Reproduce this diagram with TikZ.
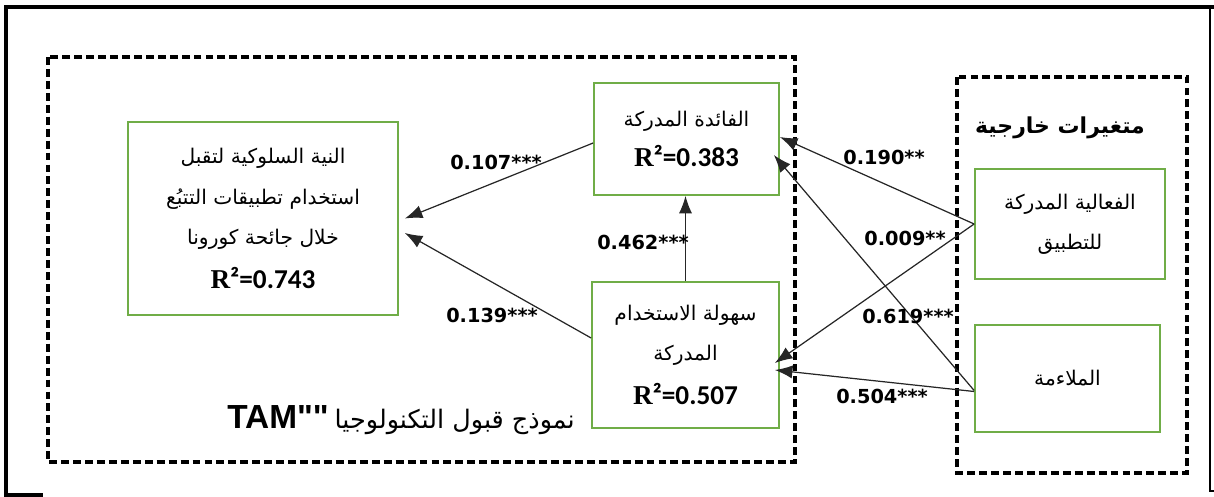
\documentclass[tikz,border=0pt]{standalone}
\usepackage{fontspec}
\TeXXeTstate=1
\newfontfamily\arabicfont[Script=Arabic]{DejaVu Sans}
\newfontfamily\numfont{DejaVu Sans}
\newfontfamily\rfont{Liberation Serif}
\newfontfamily\calfont{Carlito}
\newfontfamily\latfont{Liberation Sans}
\usetikzlibrary{arrows.meta}
\definecolor{boxgreen}{RGB}{112,173,71}
\newcommand{\artxt}[1]{{\arabicfont\beginR #1\endR}}
\newcommand{\rsq}[1]{{\fontsize{15.5}{23}\selectfont\bfseries\rfont R\calfont ²=#1}}
\tikzset{varbox/.style = {draw=boxgreen, line width=1pt, align=center,
                          inner sep=0, font=\fontsize{11.5}{23}\selectfont}}
\tikzset{grp/.style = {draw, line width=2pt, dash pattern=on 4.5pt off 2.3pt}}
\tikzset{path/.style = {draw=black!85, line width=0.7pt,
                        -{Latex[length=10pt,width=7.5pt]}}}
\tikzset{coef/.style = {font=\numfont\bfseries\fontsize{11}{13}\selectfont}}

\begin{document}
\begin{tikzpicture}[x=0.02cm, y=-0.02cm]
    \useasboundingbox (0, 0) rectangle (1214, 497);
    \draw [line width=2.3pt] (1214, 7) -- (6, 7) -- (6, 495) -- (43, 495);
    \draw [line width=0.8pt] (1210, 7) -- (1210, 491) -- (1214, 491);

    \draw [grp] (48, 57) rectangle (795, 462);
    \draw [grp] (957, 77) rectangle (1187, 473);

    \node (bi) at (263, 218.5) [varbox, minimum width=5.4cm, minimum height=3.86cm]
        {\artxt{النية السلوكية لتقبل}\\ \artxt{استخدام تطبيقات التتبُع}\\
         \artxt{خلال جائحة كورونا}\\[2pt] \rsq{0.743}};
    \node (pu) at (686.5, 139) [varbox, minimum width=3.7cm, minimum height=2.24cm]
        {\artxt{الفائدة المدركة}\\ \rsq{0.383}};
    \node (peou) at (685.5, 355) [varbox, minimum width=3.74cm, minimum height=2.92cm]
        {\artxt{سهولة الاستخدام}\\ \artxt{المدركة}\\[2pt] \rsq{0.507}};
    \node (eff) at (1070, 224) [varbox, minimum width=3.8cm, minimum height=2.2cm]
        {\artxt{الفعالية المدركة}\\ \artxt{للتطبيق}};
    \node (comp) at (1067.5, 378.5) [varbox, minimum width=3.7cm, minimum height=2.14cm]
        {\artxt{الملاءمة}};

    \node (ext) at (1060, 128) [font=\arabicfont\bfseries\fontsize{12.5}{16}\selectfont]
        {\beginR متغيرات خارجية\endR};
    \node (tam) at (401, 420)
        {{\latfont\bfseries\fontsize{19}{22}\selectfont TAM""}
         {\fontsize{14.5}{20}\selectfont\artxt{نموذج قبول التكنولوجيا}}};

    \draw [path] ([yshift=-0.08cm]pu.west) -- ([xshift=0.12cm]bi.east)
        node (c1) at (496, 162) [coef] {0.107***};
    \draw [path] ([yshift=0.34cm]peou.west) -- ([xshift=0.12cm, yshift=-0.29cm]bi.east)
        node (c2) at (492, 315) [coef] {0.139***};
    \draw [path] (peou.north) -- (peou.north |- pu.south)
        node (c3) at (643, 242) [coef] {0.462***};
    \draw [path] (eff.west) -- ([yshift=0.04cm]pu.east)
        node (c4) at (884, 157) [coef] {0.190**};
    \draw [path] (eff.west) -- ([xshift=-0.1cm, yshift=-0.16cm]peou.east)
        node (c5) at (905, 238) [coef] {0.009**};
    \draw [path] ([yshift=-0.24cm]comp.west) -- ([xshift=-0.12cm, yshift=-0.32cm]pu.east)
        node (c6) at (908, 316) [coef] {0.619***};
    \draw [path] ([yshift=-0.26cm]comp.west) -- ([xshift=-0.1cm, yshift=-0.3cm]peou.east)
        node (c7) at (882, 396) [coef] {0.504***};
\end{tikzpicture}
\end{document}
